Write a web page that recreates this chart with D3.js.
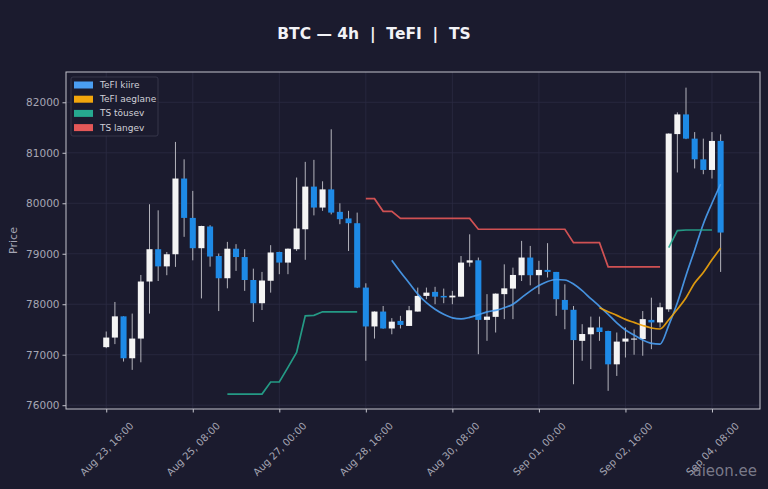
<!DOCTYPE html>
<html>
<head>
<meta charset="utf-8">
<script src="https://cdn.jsdelivr.net/npm/d3@7"></script>
<style>
  html, body { margin: 0; padding: 0; background: #1b1b2e; }
  svg { display: block; font-family: "DejaVu Sans", sans-serif; }
</style>
</head>
<body>
<svg id="chart" width="768" height="489"></svg>
<script>
// Candle values (4h BTC)
const opens  = [77150,77340,77760,76930,77320,78450,79090,78750,78990,80490,
                79710,79110,79540,78955,78515,79100,78935,78480,78020,78465,
                79035,78825,79090,79485,80330,79915,80275,79830,79700,79605,
                78330,77560,77855,77520,77670,77570,77855,78165,78245,78165,
                78135,78150,78825,78870,77690,77750,78200,78310,78575,78925,
                78575,78680,78640,78085,77890,77275,77405,77540,77470,76810,
                77260,77300,77310,77690,77640,77900,81370,81760,81280,80870,
                80660,81235];
const highs  = [77460,78045,77760,77815,78580,79980,79860,79035,81215,80870,
                80245,79555,79565,79005,79235,79190,79090,78705,78640,79170,
                79040,79105,80510,80820,80860,80435,81465,80000,79850,79815,
                78415,77860,77965,77725,77770,77965,78330,78330,78345,78310,
                78265,78955,79385,78925,78200,78215,78790,78725,79255,79155,
                78860,79210,78640,78395,77965,77605,77755,77755,77475,77440,
                77540,77500,77865,78130,78030,81385,81800,82290,81410,81280,
                81410,81365];
const lows   = [77130,77210,76865,76700,76850,77815,78460,78575,78740,79335,
                78870,78115,78745,77865,78315,78660,78265,77650,77885,78230,
                78595,78595,79055,78880,79760,79850,79780,79585,79055,78320,
                76880,77320,77515,77405,77520,77570,77855,78100,78000,78020,
                78000,78150,78745,77010,77275,77440,77705,77705,78460,78375,
                78200,78530,77770,77505,76415,76880,76715,77275,76285,76580,
                76945,77000,76980,77110,77540,77850,80610,81270,80690,80575,
                80490,78640];
const closes = [77340,77760,76930,77320,78450,79090,78750,78990,80490,79710,
                79110,79550,78945,78515,79100,78935,78480,78020,78470,79025,
                78825,79100,79500,80330,79915,80275,79815,79685,79605,78330,
                77560,77855,77520,77655,77590,77880,78165,78230,78150,78135,
                78170,78825,78870,77690,77755,78210,78315,78580,78925,78575,
                78680,78640,78100,77890,77290,77410,77540,77450,76810,77260,
                77320,77320,77705,77640,77940,81380,81760,81280,80870,80660,
                81235,79420];

const _ = null;
// TeFI fast / slow, TS up / down (null = not drawn)
const tefiFast = [_,_,_,_,_,_,_,_,_,_, _,_,_,_,_,_,_,_,_,_, _,_,_,_,_,_,_,_,_,_,
                  _,_,_,78870,78640,78420,78200,78030,77900,77800,
                  77730,77710,77740,77790,77850,77880,77930,78000,78130,78260,
                  78370,78450,78490,78480,78400,78270,78110,77960,77800,77630,
                  77490,77390,77290,77225,77210,77580,78030,78570,79075,79590,
                  80000,80380];
const tefiSlow = [_,_,_,_,_,_,_,_,_,_, _,_,_,_,_,_,_,_,_,_, _,_,_,_,_,_,_,_,_,_,
                  _,_,_,_,_,_,_,_,_,_, _,_,_,_,_,_,_,_,_,_, _,_,_,_,_,_,_,
                  77930,77850,77780,77700,77640,77580,77530,77510,77690,77900,
                  78130,78420,78630,78880,79110];
const tsUp     = [_,_,_,_,_,_,_,_,_,_, _,_,_,_,76220,76220,76220,76220,76220,76460,
                  76460,76750,77045,77770,77780,77850,77850,77850,77850,77850,
                  _,_,_,_,_,_,_,_,_,_, _,_,_,_,_,_,_,_,_,_,
                  _,_,_,_,_,_,_,_,_,_, _,_,_,_,_,79120,79460,79470,79470,79470,
                  79470,_];
const tsDown   = [_,_,_,_,_,_,_,_,_,_, _,_,_,_,_,_,_,_,_,_, _,_,_,_,_,_,_,_,_,_,
                  80090,80090,79840,79840,79700,79700,79700,79700,79700,79700,
                  79700,79700,79700,79485,79485,79485,79485,79485,79485,79485,
                  79485,79485,79485,79485,79220,79220,79220,79220,78740,78740,
                  78740,78740,78740,78740,78740,_,_,_,_,_,
                  _,_];

// x tick labels every 10 candles (40h)
const xTickIdx    = [0, 10, 20, 30, 40, 50, 60, 70];
const xTickLabels = ["Aug 23, 16:00","Aug 25, 08:00","Aug 27, 00:00","Aug 28, 16:00",
                     "Aug 30, 08:00","Sep 01, 00:00","Sep 02, 16:00","Sep 04, 08:00"];
const yTicks = [76000, 77000, 78000, 79000, 80000, 81000, 82000];

const legendNames  = ["TeFI kiire", "TeFI aeglane", "TS tõusev", "TS langev"];
const legendColors = ["#4a9ef2", "#f2a60c", "#26a98f", "#e45858"];

const candles = opens.map((o, i) => ({i: i, o: o, h: highs[i], l: lows[i], c: closes[i]}));

const svg = d3.select("#chart");
const margin = {top: 72, right: 8, bottom: 80, left: 66};
const W = 768, H = 489;

svg.append("rect").attr("width", W).attr("height", H).attr("fill", "#1b1b2e");

const x = d3.scaleLinear().domain([-4.65, 75.55]).range([margin.left, W - margin.right]);
const y = d3.scaleLinear().domain([75925, 82600]).range([H - margin.bottom, margin.top]);

const plot = svg.append("g");

// grid
plot.append("g").selectAll("line").data(xTickIdx).enter().append("line")
  .attr("x1", d => x(d)).attr("x2", d => x(d))
  .attr("y1", y.range()[1]).attr("y2", y.range()[0])
  .attr("stroke", "#2b2b42").attr("stroke-width", 0.8);
plot.append("g").selectAll("line").data(yTicks).enter().append("line")
  .attr("x1", x.range()[0]).attr("x2", x.range()[1])
  .attr("y1", d => y(d)).attr("y2", d => y(d))
  .attr("stroke", "#2b2b42").attr("stroke-width", 0.8);

// candles
const bodyW = (x(1) - x(0)) * 0.7;
const cg = plot.append("g").selectAll("g").data(candles).enter().append("g");
cg.append("line")
  .attr("x1", d => x(d.i)).attr("x2", d => x(d.i))
  .attr("y1", d => y(d.h)).attr("y2", d => y(d.l))
  .attr("stroke", "#b4b4bc").attr("stroke-width", 1);
cg.append("rect")
  .attr("x", d => x(d.i) - bodyW / 2)
  .attr("width", bodyW)
  .attr("y", d => y(Math.max(d.o, d.c)))
  .attr("height", d => Math.max(1, Math.abs(y(d.o) - y(d.c))))
  .attr("fill", d => d.c >= d.o ? "#f4f4f4" : "#1e8ae6");

// indicator lines (TeFI smooth, TS straight)
const smooth = d3.line().defined(d => d != null).curve(d3.curveMonotoneX)
  .x((d, i) => x(i)).y(d => y(d));
const straight = d3.line().defined(d => d != null)
  .x((d, i) => x(i)).y(d => y(d));
[tefiFast, tefiSlow, tsUp, tsDown].forEach((s, k) => {
  plot.append("path").datum(s)
    .attr("d", k < 2 ? smooth : straight)
    .attr("fill", "none")
    .attr("stroke", legendColors[k])
    .attr("stroke-width", 1.7)
    .attr("stroke-opacity", 0.9);
});

// frame
svg.append("rect")
  .attr("x", x.range()[0]).attr("y", y.range()[1])
  .attr("width", x.range()[1] - x.range()[0])
  .attr("height", y.range()[0] - y.range()[1])
  .attr("fill", "none").attr("stroke", "#c4c4cc").attr("stroke-width", 1);

// axes
const yAxis = svg.append("g")
  .attr("transform", `translate(${x.range()[0]},0)`)
  .call(d3.axisLeft(y).tickValues(yTicks).tickSize(3.5).tickPadding(3).tickFormat(d3.format("d")));
const xAxis = svg.append("g")
  .attr("transform", `translate(0,${y.range()[0]})`)
  .call(d3.axisBottom(x).tickValues(xTickIdx).tickSize(3.5).tickFormat((d, i) => xTickLabels[i]));
[xAxis, yAxis].forEach(a => {
  a.select(".domain").remove();
  a.selectAll(".tick line").attr("stroke", "#c4c4cc");
  a.selectAll("text").attr("fill", "#a6a6b4").attr("font-size", "10.5px")
    .attr("font-family", "DejaVu Sans, sans-serif");
});
xAxis.selectAll("text")
  .attr("font-size", "10px")
  .attr("text-anchor", "middle")
  .attr("dominant-baseline", "central")
  .attr("y", 0).attr("dy", 0)
  .attr("transform", "translate(0,40) rotate(-45)");

// y label
svg.append("text")
  .attr("transform", `translate(13,${(y.range()[0] + y.range()[1]) / 2}) rotate(-90)`)
  .attr("text-anchor", "middle").attr("dominant-baseline", "central")
  .attr("fill", "#a6a6b4").attr("font-size", "11px")
  .text("Price");

// title
svg.append("text")
  .attr("x", 374).attr("y", 39)
  .attr("text-anchor", "middle")
  .attr("fill", "#f2f2f6").attr("font-size", "15.5px").attr("font-weight", "bold")
  .attr("xml:space", "preserve")
  .text("BTC — 4h  |  TeFI  |  TS");

// legend
const lg = svg.append("g").attr("transform", "translate(71,77)");
lg.append("rect").attr("width", 87).attr("height", 59).attr("rx", 2)
  .attr("fill", "#1b1b2e").attr("fill-opacity", 0.85)
  .attr("stroke", "#3c3c52").attr("stroke-width", 0.8);
const items = lg.selectAll("g").data(legendNames).enter().append("g")
  .attr("transform", (d, i) => `translate(3,${8 + i * 14.2})`);
items.append("rect").attr("x", 0).attr("y", -3.5).attr("width", 19).attr("height", 7)
  .attr("fill", (d, i) => legendColors[i]);
items.append("text").attr("x", 26).attr("y", 0)
  .attr("dominant-baseline", "central")
  .attr("fill", "#d0d0d8").attr("font-size", "9px")
  .text(d => d);

// watermark
svg.append("text")
  .attr("x", 757).attr("y", 476)
  .attr("text-anchor", "end")
  .attr("fill", "#9a9aa8").attr("fill-opacity", 0.75)
  .attr("font-size", "15px")
  .text("aieon.ee");
</script>
</body>
</html>
